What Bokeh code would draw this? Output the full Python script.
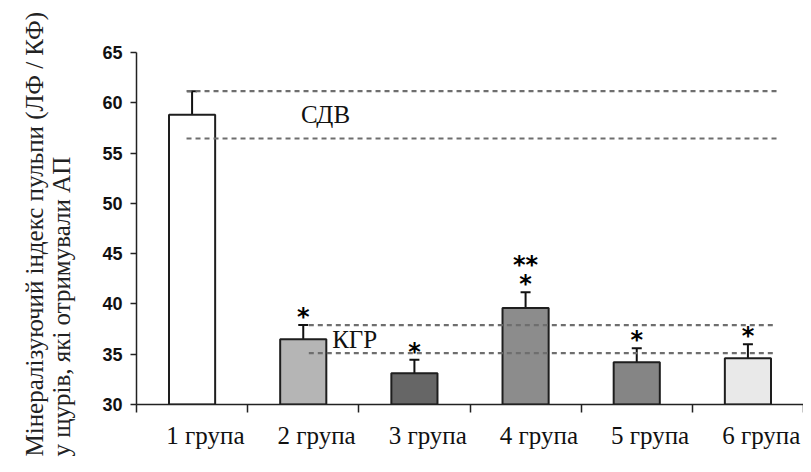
import math
from bokeh.plotting import figure
from bokeh.models import ColumnDataSource, Range1d, FixedTicker, Whisker, TeeHead, Title
from bokeh.core.properties import value
from bokeh.embed import file_html
from bokeh.resources import INLINE

# ---- data ----
groups = ["1 група", "2 група", "3 група", "4 група", "5 група", "6 група"]
means = [58.8, 36.5, 33.1, 39.6, 34.2, 34.6]
errors = [2.35, 1.4, 1.35, 1.55, 1.4, 1.4]
stars_single = ["", "*", "*", "*", "*", "*"]
stars_double = ["", "", "", "**", "", ""]
ref_labels = ["СДВ", "КГР"]          # reference bands from groups 1 and 2
y_ticks = [30, 35, 40, 45, 50, 55, 60, 65]
y_label_1 = "Мінералізуючий індекс пульпи (ЛФ / КФ)"
y_label_2 = "у щурів, які отримували АП"

colors = ["#ffffff", "#b5b5b5", "#666666", "#8c8c8c", "#858585", "#e9e9e9"]

n = len(groups)
xc = [i + 0.5 for i in range(n)]
upper = [m + e for m, e in zip(means, errors)]
lower = [m - e for m, e in zip(means, errors)]

src = ColumnDataSource(dict(x=xc, top=means, upper=upper, lower=lower,
                            color=colors, s1=stars_single, s2=stars_double))

p = figure(width=803, height=464, output_backend="svg", toolbar_location=None,
           x_range=Range1d(0, n), y_range=Range1d(30, 65),
           min_border_left=136, min_border_right=0, min_border_top=52, min_border_bottom=60)
p.outline_line_color = None
p.xgrid.visible = False
p.ygrid.visible = False
p.background_fill_color = "white"

SERIF = value("Liberation Serif")

# bars
p.vbar(x="x", top="top", bottom=30, width=0.415, source=src,
       fill_color="color", line_color="#1e1e1e", line_width=2)

# error bars
p.add_layout(Whisker(base="x", upper="upper", lower="lower", source=src,
                     line_color="#111111", line_width=2,
                     upper_head=TeeHead(size=10, line_color="#111111", line_width=2),
                     lower_head=TeeHead(size=10, line_color="#111111", line_width=2)))

# reference bands (dashed lines) from group 1 (СДВ) and group 2 (КГР)
x_end = n - 0.24
bx0 = [xc[0] - 0.05, xc[0] - 0.05, xc[1] + 0.05, xc[1] + 0.05]
by = [upper[0], lower[0], upper[1], lower[1]]
p.segment(x0=bx0, y0=by, x1=[x_end] * 4, y1=by,
          line_color="#6e6e6e", line_width=2.2, line_dash="5 4")

# band labels
p.text(x=[xc[0] + 1.2], y=[means[0]], text=[ref_labels[0]], text_font=SERIF,
       text_font_size="25px", text_align="center", text_baseline="middle", text_color="#111111")
p.text(x=[xc[1] + 0.26], y=[means[1]], text=[ref_labels[1]], text_font=SERIF,
       text_font_size="25px", text_align="left", text_baseline="middle", text_color="#111111")

# significance stars
STAR = value("DejaVu Sans")
p.text(x="x", y="upper", text="s1", source=src, text_font=STAR,
       text_font_style="bold", text_font_size="24px", text_align="center",
       text_baseline="middle", y_offset=-8, text_color="black")
p.text(x="x", y="upper", text="s2", source=src, text_font=STAR,
       text_font_style="bold", text_font_size="24px", text_align="center",
       text_baseline="middle", y_offset=-27, text_color="black")

# x axis
xa = p.xaxis[0]
xa.ticker = FixedTicker(ticks=[c + 0.12 for c in xc], minor_ticks=list(range(n + 1)))
xa.major_label_overrides = {c + 0.12: g for c, g in zip(xc, groups)}
xa.major_tick_line_color = None
xa.major_tick_out = 0
xa.major_tick_in = 0
xa.minor_tick_out = 8
xa.minor_tick_in = 0
xa.minor_tick_line_color = "#222222"
xa.minor_tick_line_width = 1.5
xa.axis_line_color = "#222222"
xa.axis_line_width = 1.5
xa.major_label_text_font = "Liberation Serif"
xa.major_label_text_font_size = "25px"
xa.major_label_text_color = "#111111"
xa.major_label_standoff = 9

# y axis
ya = p.yaxis[0]
ya.ticker = FixedTicker(ticks=y_ticks)
ya.minor_tick_line_color = None
ya.major_tick_out = 6
ya.major_tick_in = 0
ya.major_tick_line_color = "#222222"
ya.major_tick_line_width = 1.5
ya.axis_line_color = "#222222"
ya.axis_line_width = 1.5
ya.major_label_text_font = "Liberation Sans"
ya.major_label_text_font_style = "bold"
ya.major_label_text_font_size = "18px"
ya.major_label_text_color = "#111111"
ya.major_label_standoff = 8

# spacer between the tick labels and the axis title
p.add_layout(Title(text=" ", standoff=22, text_font_size="1px"), "left")
# y axis title (two rotated lines, bottom-aligned)
p.add_layout(Title(text=y_label_1 + "\n" + y_label_2, align="left", offset=-52, standoff=0,
                   text_font="Liberation Serif", text_font_style="normal",
                   text_font_size="25px", text_line_height=1.0,
                   text_color="#222222"), "left")

open("out.html", "w").write(file_html(p, INLINE))
